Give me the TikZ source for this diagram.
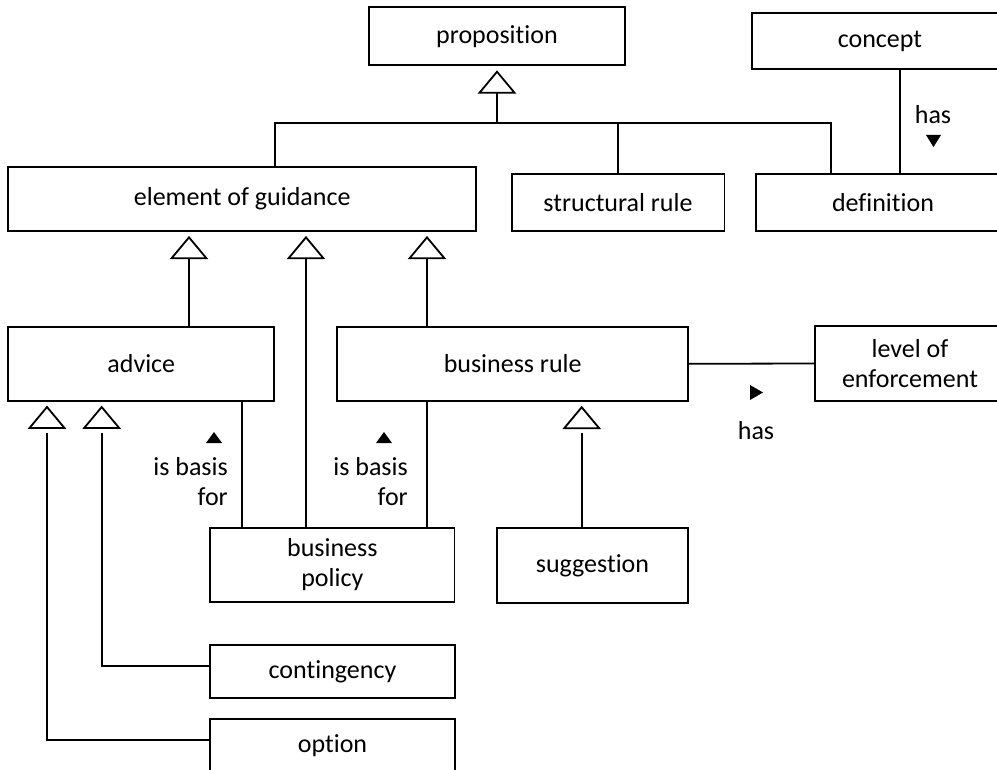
\documentclass[tikz,border=0pt]{standalone}
\usepackage{fontspec}
\setmainfont{Carlito}[Ligatures=NoCommon]
\usetikzlibrary{calc}

% open generalization triangle, apex given
\newcommand\isatri[1]{\draw[tri] (#1) -- ++(-17.5,21) -- ++(35,0) -- cycle;}

\begin{document}
\begin{tikzpicture}[x=1pt,y=-1pt,
  box/.style={draw, line width=1.8pt, inner sep=0pt, outer sep=0pt, align=center,
              font=\fontsize{26}{30}\selectfont},
  conn/.style={line width=1.8pt},
  tri/.style={draw, fill=white, line width=1.8pt, line join=miter},
  lbl/.style={inner sep=0pt, font=\fontsize{26}{30}\selectfont},
  dirtri/.style={fill=black}
]
\path[use as bounding box, clip] (0,0) rectangle (997,770);

% concepts
\node[box, minimum width=255.6pt, minimum height=57.7pt] (prop)    at (497,36.2)   {proposition};
\node[box, minimum width=256pt,   minimum height=56.6pt] (concept) at (880,41)     {concept};
\node[box, minimum width=467.7pt, minimum height=63.7pt] (eog)     at (242.2,199.2){element of guidance};
\node[box, minimum width=212.8pt, minimum height=56.7pt] (struct)  at (618,202.4)  {structural rule};
\node[box, minimum width=254pt,   minimum height=56.7pt] (defn)    at (883,202.4)  {definition};
\node[box, minimum width=266pt,   minimum height=74pt]   (advice)  at (141.3,363.7){advice};
\node[box, minimum width=350.7pt, minimum height=74.3pt] (brule)   at (512.7,363.8){business rule};
\node[box, minimum width=190pt,   minimum height=75pt]   (loe)     at (910,363.5)  {level of\\enforcement};
\node[box, minimum width=244.5pt, minimum height=74.6pt] (bpol)    at (332.3,565)  {business\\policy};
\node[box, minimum width=191.6pt, minimum height=74.4pt] (sugg)    at (592.5,565.5){suggestion};
\node[box, minimum width=245pt,   minimum height=53.3pt] (cont)    at (332.5,671.7){contingency};
\node[box, minimum width=245pt,   minimum height=53.3pt] (opt)     at (332.5,746)  {option};

% proposition and its specializations
\coordinate (hub) at ($(prop.south)+(0,58.3)$);
\isatri{$(prop.south)+(0,6.7)$}
\draw[conn] ($(prop.south)+(0,27.7)$) -- (hub);
\draw[conn] ($(eog.north)+(33,0)$) |- (hub) -| ($(defn.north)+(-52.3,0)$);
\draw[conn] (struct.north) -- (struct.north |- hub);

% concept has definition
\coordinate (cd) at ($(concept.south)+(20,0)$);
\draw[conn] (cd) -- (cd |- defn.north);
\node[lbl] (hasA) at (933,115) {has};
\fill[dirtri] (926,135) -- (941,135) -- (933.5,147) -- cycle;

% element of guidance and its specializations
\coordinate (g1) at ($(advice.north)+(47.7,0)$);
\coordinate (g2) at ($(bpol.north)+(-26.3,0)$);
\coordinate (g3) at ($(brule.north)+(-85.7,0)$);
\foreach \g in {g1,g2,g3}{
  \coordinate (ap) at ($(\g |- eog.south)+(0,6.3)$);
  \isatri{ap}
  \draw[conn] ($(ap)+(0,21)$) -- (\g);
}

% advice and its specializations
\coordinate (s1) at ($(advice.south)+(-94.3,0)$);
\coordinate (s2) at ($(advice.south)+(-39.6,0)$);
\isatri{$(s1)+(0,6.3)$}
\isatri{$(s2)+(0,6.3)$}
\draw[conn] ($(opt.west)+(0,-6)$) -| ($(s1)+(0,32.3)$);
\draw[conn] ($(cont.west)+(0,-6)$) -| ($(s2)+(0,32.3)$);

% business rule and suggestion
\coordinate (s3) at ($(brule.south)+(69,0)$);
\isatri{$(s3)+(0,6.3)$}
\draw[conn] ($(s3)+(0,32.3)$) -- (s3 |- sugg.north);

% business policy is basis for advice / business rule
\coordinate (ab) at ($(advice.south east)+(-32,0)$);
\coordinate (bb) at ($(brule.south west)+(89.4,0)$);
\draw[conn] (ab) -- (ab |- bpol.north);
\draw[conn] (bb) -- (bb |- bpol.north);
\node[lbl, align=right, anchor=east] (basisA) at (228,482) {is basis\\for};
\node[lbl, align=right, anchor=east] (basisB) at (408,482) {is basis\\for};
\fill[dirtri] (206,443) -- (222,443) -- (214,432) -- cycle;
\fill[dirtri] (376,443) -- (392,443) -- (384,432) -- cycle;

% business rule has level of enforcement
\draw[conn] (brule.east) -- (loe.west);
\node[lbl] (hasB) at (756,431) {has};
\fill[dirtri] (750,385) -- (763,392.5) -- (750,400) -- cycle;
\end{tikzpicture}
\end{document}
